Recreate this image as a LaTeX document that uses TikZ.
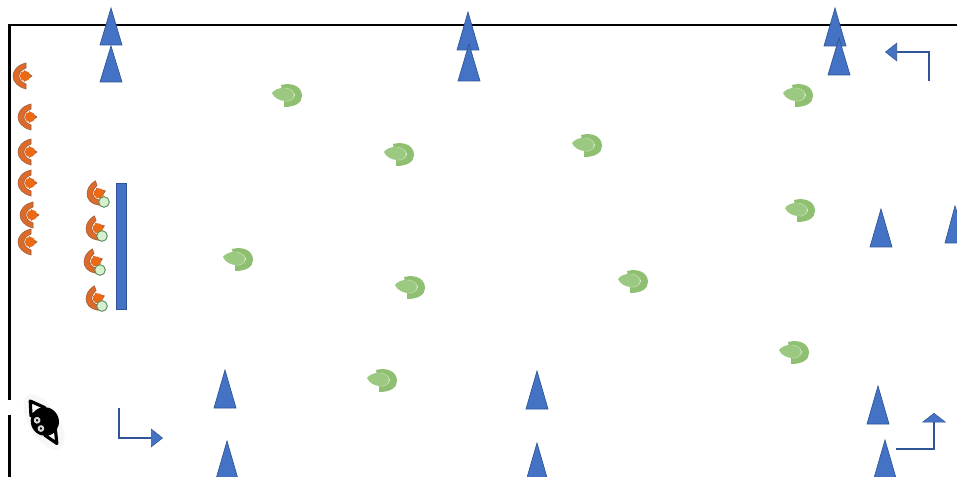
\documentclass[tikz,border=0pt]{standalone}
\usetikzlibrary{arrows.meta}
\definecolor{coneblue}{HTML}{4472C4}
\definecolor{coneedge}{HTML}{2F5597}
\definecolor{orangeP}{HTML}{EC6A14}
\definecolor{orangeC}{HTML}{DD6A28}
\definecolor{orangeD}{HTML}{9A5A3A}
\definecolor{greenP}{HTML}{9CC982}
\definecolor{greenD}{HTML}{8FBF70}
\definecolor{greenL}{HTML}{BBDBA6}
\definecolor{ballF}{HTML}{D5F0CE}
\definecolor{ballE}{HTML}{5E8A5E}
\tikzset{
  x=0.75pt,y=-0.75pt,
  cone/.style={fill=coneblue,draw=coneedge,line width=0.5pt,line join=miter},
  frameline/.style={draw=black,line width=1.7pt},
  turnarrow/.style={draw=coneedge,line width=1.8pt},
  longtip/.style={-{Triangle[length=9pt,width=14pt,line width=0.4pt,fill=coneblue]}},
  widetip/.style={-{Triangle[length=7pt,width=18pt,line width=0.4pt,fill=coneblue]}},
  wallbar/.style={fill=coneblue,draw=coneedge,line width=0.75pt},
  ballmark/.style={circle,fill=ballF,draw=ballE,line width=0.7pt,minimum size=8pt,inner sep=0pt},
  pics/redplayer/.style={code={
    \fill[orangeC,draw=orangeD,line width=0.4pt] (3,-13) .. controls (-6,-11) and (-10,-5) .. (-10,0) .. controls (-10,6) and (-5,11) .. (3,13) -- (3,8) .. controls (-2,6) and (-4,3) .. (-4,0) .. controls (-4,-3) and (-2,-6) .. (3,-8) -- cycle;
    \fill[orangeD] (1,-6) -- (9.5,0) -- (1,6) -- cycle;
    \fill[orangeP] (2,0) circle[radius=5.2];
    \fill[orangeP] (2,-4) -- (8,0) -- (2,4) -- cycle;
  }},
  pics/greenplayer/.style={code={
    \fill[greenD] (-6,-10) .. controls (6,-13) and (15,-8) .. (15,1) .. controls (15,8) and (8,12) .. (-3,12) -- (-3,5) .. controls (-1,6) and (8,6) .. (8,0) .. controls (8,-5) and (0,-6) .. (-5,-5) -- cycle;
    \fill[greenP] (-15,-2) .. controls (-13,-5) and (-7,-8) .. (-2,-7) .. controls (5,-6) and (7,-3) .. (7,0) .. controls (7,4) and (3,7) .. (-2,6) .. controls (-7,6) and (-13,3) .. (-15,-2) -- cycle;
    \draw[greenL,line width=0.5pt] (-2,-7) .. controls (5,-6) and (7,-3) .. (7,0) .. controls (7,4) and (3,7) .. (-2,6);
  }}
}
\newcommand{\conemark}[4]{\draw[cone] (#1,#2) -- (#3+11,#4) -- (#3-11,#4) -- cycle;}
\begin{document}
\begin{tikzpicture}
\useasboundingbox (0,0) rectangle (957,477);
\clip (0,0) rectangle (957,477);
\fill[white] (0,0) rectangle (957,477);
% frame
\coordinate (fa) at (9.5,400);
\coordinate (fb) at (9.5,25);
\coordinate (fc) at (957,25);
\coordinate (fd) at (9.5,415);
\coordinate (fe) at (9.5,477);
\draw[frameline] (fa) -- (fb) -- (fc);
\draw[frameline] (fd) -- (fe);
% cones
\conemark{111}{8}{111}{45}
\conemark{111}{46}{111}{82}
\conemark{468}{12}{468}{50}
\conemark{469}{44}{469}{81}
\conemark{835}{8}{835}{46}
\conemark{839}{38}{839}{75}
\conemark{881}{209}{881}{247}
\conemark{955}{206}{956}{243}
\conemark{225}{370}{225}{408}
\conemark{227}{441}{227}{479}
\conemark{537}{371}{537}{409}
\conemark{537}{443}{537}{481}
\conemark{878}{386}{878}{424}
\conemark{885}{440}{885}{478}
% wall
\node[wallbar,minimum width=7.5pt,minimum height=95pt,inner sep=0pt] (wall) at (121,246.5) {};
% red players without ball
\pic (r1) at (23,76) {redplayer};
\pic (r2) at (28,117) {redplayer};
\pic (r3) at (28,152) {redplayer};
\pic (r4) at (28,183) {redplayer};
\pic (r5) at (30,215) {redplayer};
\pic (r6) at (28,242) {redplayer};
% red players with ball
\pic[rotate=20] (h1) at (97,194) {redplayer};
\pic[rotate=20] (h2) at (96,229) {redplayer};
\pic[rotate=20] (h3) at (94,262) {redplayer};
\pic[rotate=20] (h4) at (96,299) {redplayer};
\node[ballmark] (b1) at (104,202) {};
\node[ballmark] (b2) at (102,236) {};
\node[ballmark] (b3) at (100,270) {};
\node[ballmark] (b4) at (102,306) {};
% green players
\pic (g1) at (287,95) {greenplayer};
\pic (g2) at (399,154) {greenplayer};
\pic (g3) at (587,145) {greenplayer};
\pic (g4) at (798,95) {greenplayer};
\pic (g5) at (800,210) {greenplayer};
\pic (g6) at (238,259) {greenplayer};
\pic (g7) at (410,287) {greenplayer};
\pic (g8) at (633,281) {greenplayer};
\pic (g9) at (794,352) {greenplayer};
\pic (g10) at (382,380) {greenplayer};
% direction arrows
\coordinate (a1) at (119,408);
\coordinate (a2) at (119,438);
\coordinate (a3) at (163,438);
\draw[turnarrow,longtip] (a1) -- (a2) -- (a3);
\coordinate (b1s) at (929,81);
\coordinate (b2s) at (929,52);
\coordinate (b3s) at (885,52);
\draw[turnarrow,longtip] (b1s) -- (b2s) -- (b3s);
\coordinate (c1) at (896,449);
\coordinate (c2) at (934,449);
\coordinate (c3) at (934,413);
\draw[turnarrow,widetip] (c1) -- (c2) -- (c3);
% coach figure
\begin{scope}[shift={(44,422)},rotate=31]
  \fill[black!3] (0,0) ellipse[x radius=15,y radius=31];
  \draw[black,fill=white,line width=2.4pt,line join=round] (-8,-12) -- (-1,-25) -- (8,-12) -- cycle;
  \draw[black,fill=white,line width=2.4pt,line join=round] (-6,12) -- (0,25) -- (6,12) -- cycle;
  \fill[black] (1,0) ellipse[x radius=14,y radius=14.5];
  \fill[white!85!black] (-5,-5) circle[radius=3.4];
  \fill[white!85!black] (-6,4) circle[radius=3.4];
  \fill[black] (-5,-5) circle[radius=1.3];
  \fill[black] (-6,4) circle[radius=1.3];
\end{scope}
\end{tikzpicture}
\end{document}
